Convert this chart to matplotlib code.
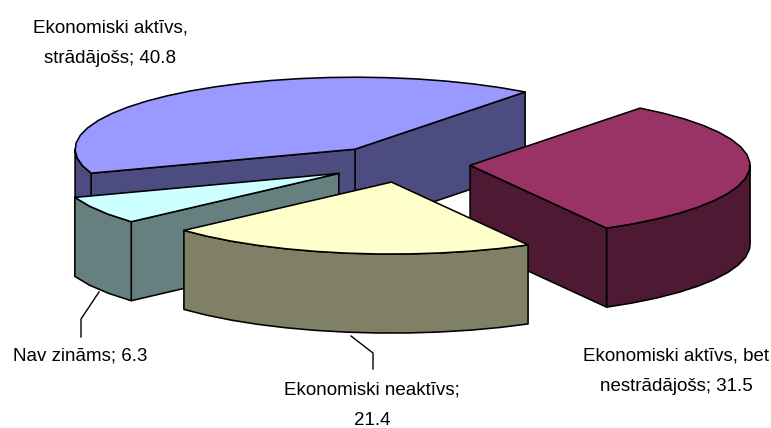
import numpy as np
import matplotlib
matplotlib.use("Agg")
import matplotlib.pyplot as plt
from matplotlib.patches import Polygon

plt.rcParams['font.family'] = ['Liberation Sans', 'DejaVu Sans']

# Population shares by economic status, drawn counter-clockwise in this order
categories = ["Ekonomiski aktīvs,\nstrādājošs", "Nav zināms",
              "Ekonomiski neaktīvs", "Ekonomiski aktīvs, bet\nnestrādājošs"]
values = [40.8, 6.3, 21.4, 31.5]
label_texts = ["Ekonomiski aktīvs,\nstrādājošs; 40.8", "Nav zināms; 6.3",
               "Ekonomiski neaktīvs;\n21.4", "Ekonomiski aktīvs, bet\nnestrādājošs; 31.5"]
top_colors = ["#9999FF", "#CCFFFF", "#FFFFCC", "#993366"]
side_colors = ["#4C4C80", "#668080", "#808066", "#4D1933"]

# Pie geometry in canvas pixels
CX, CY = 397.0, 164.0
RX, RY = 280.0, 72.0
DEPTH = 79.0
EXPLODE = 0.2545
START = 52.6
NUDGE = [(0, 0), (3, 0), (6, 0), (2, 0)]

W, H = 771, 428
fig = plt.figure(figsize=(W / 100, H / 100), dpi=100)
ax = fig.add_axes([0, 0, 1, 1])
ax.set_xlim(0, W)
ax.set_ylim(H, 0)
ax.axis("off")


def face(points, color):
    ax.add_patch(Polygon(points, closed=True, facecolor=color,
                         edgecolor="black", linewidth=1.15, joinstyle="round"))


def rim(cx, cy, t):
    return np.column_stack([cx + RX * np.cos(t), cy - RY * np.sin(t)])


def draw_slice(t0, t1, top, side, nudge):
    mid = (t0 + t1) / 2
    cx = CX + EXPLODE * RX * np.cos(mid) + nudge[0]
    cy = CY - EXPLODE * RY * np.sin(mid) + nudge[1]
    centre = np.array([[cx, cy]])
    drop = np.array([0, DEPTH])
    # The rim is a coarse polyline, which leaves slight facets along the edge
    ts = np.linspace(t0, t1, max(int(np.degrees(t1 - t0) / 6), 2) + 1)
    arc = rim(cx, cy, ts)

    # A radial wall faces the viewer when its outward normal points down the canvas
    for t, sign in ((t0, 1), (t1, -1)):
        if sign * np.cos(t) > 0:
            edge = rim(cx, cy, np.array([t]))
            face(np.vstack([centre, edge, edge + drop, centre + drop]), side)

    # Outer wall: only the stretch on the near half of the rim
    near_lo = max(t0, np.pi)
    near_hi = min(t1, 2 * np.pi)
    if near_hi > near_lo:
        keep = ts[(ts > near_lo) & (ts < near_hi)]
        near_ts = np.concatenate([[near_lo], keep, [near_hi]])
        seg = rim(cx, cy, near_ts)
        face(np.vstack([seg, (seg + drop)[::-1]]), side)

    face(np.vstack([centre, arc]), top)


# Slices are painted back to front so nearer ones overlap the others
fractions = np.array(values) / np.sum(values)
edges = np.radians(START + 360 * np.concatenate([[0], np.cumsum(fractions)]))
spans = [(edges[i], edges[i + 1], top_colors[i], side_colors[i], NUDGE[i])
         for i in range(len(values))]
for i in (0, 3, 1, 2):
    draw_slice(*spans[i])

# Leader lines
ax.plot([99, 81, 81], [292, 319, 337], color="black", lw=1.0)
ax.plot([351, 373, 373], [336, 353, 369], color="black", lw=1.0)

# Data labels
label_pos = [(110, 43), (80, 356), (372, 405), (676, 371)]
for txt, (x, y) in zip(label_texts, label_pos):
    ax.text(x, y, txt, ha="center", va="center", fontsize=13.5, color="black", linespacing=2.05)

fig.savefig("out.png", dpi=100)
